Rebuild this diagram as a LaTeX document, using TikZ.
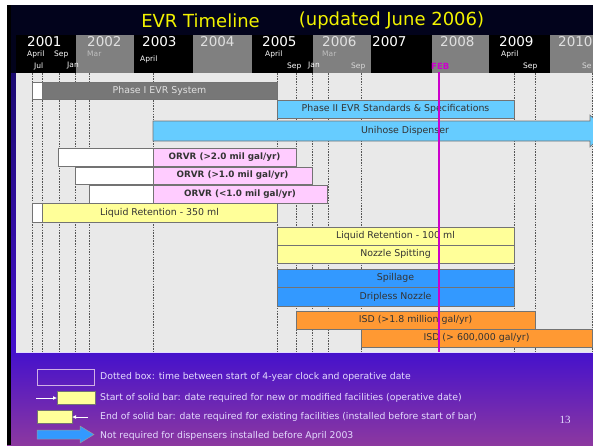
\documentclass[tikz,border=0pt]{standalone}
\usepackage{fontspec}
\setmainfont{DejaVu Sans}
\newfontfamily\numfont{Liberation Serif}
\usetikzlibrary{arrows.meta}
\definecolor{navy}{HTML}{02031C}
\definecolor{stripA}{HTML}{1A0A70}
\definecolor{stripB}{HTML}{4410CC}
\definecolor{purA}{HTML}{4511CC}
\definecolor{purM}{HTML}{6C0CD4}
\definecolor{purB}{HTML}{8C38A0}
\definecolor{chartbg}{HTML}{E9E9E9}
\definecolor{hdrgray}{HTML}{808080}
\definecolor{bargray}{HTML}{777777}
\definecolor{ltblue}{HTML}{66CCFF}
\definecolor{pinkbar}{HTML}{FFCCFF}
\definecolor{yelbar}{HTML}{FFFF99}
\definecolor{bluebar}{HTML}{3399FF}
\definecolor{orgbar}{HTML}{FF9933}
\definecolor{febmag}{HTML}{CC00CC}
\definecolor{titley}{HTML}{F2F200}
\definecolor{lav}{HTML}{E4DCFF}
\definecolor{dotc}{HTML}{555555}
\tikzset{
  barbox/.style={draw=black!55, line width=0.6pt, inner sep=0pt, outer sep=0pt, font=\fontsize{9.4}{10}\selectfont, text=black!80},
  ptext/.style={barbox, font=\bfseries\fontsize{8.8}{10}\selectfont},
  yeartxt/.style={anchor=west, inner sep=0pt, font=\fontsize{13.5}{13.5}\selectfont},
  montxt/.style={anchor=west, inner sep=0pt, font=\fontsize{7.5}{7.5}\selectfont},
  titletxt/.style={inner sep=0pt, text=titley, font=\fontsize{18}{18}\selectfont},
  legtxt/.style={anchor=west, inner sep=0pt, text=lav, font=\fontsize{9.3}{10}\selectfont},
  dotline/.style={dotc, line width=0.6pt, dash pattern=on 1.5pt off 1.2pt},
  legarrow/.style={white, line width=0.9pt, -{Latex[length=4pt,width=4pt]}}
}
\begin{document}
\begin{tikzpicture}[x=1pt,y=-1pt]
\useasboundingbox (0,0) rectangle (593,445);
\begin{scope}
\clip (0,0) rectangle (593,445);
\fill[white] (0,0) rectangle (593,445);
% background
\fill[navy] (7,5) rectangle (593,73);
\shade[top color=stripA, bottom color=stripB] (7,73) rectangle (593,352);
\shade[top color=purA, middle color=purM, bottom color=purB] (7,352) rectangle (593,445);
\fill[black] (7,5) rectangle (11,445);
% title
\node[titletxt] (t1) at (200.5,21) {EVR Timeline};
\node[titletxt] (t2) at (391.5,21) {(updated June 2006)};
% header cells
\fill[black] (16,35) rectangle (76,73);
\fill[hdrgray] (76,35) rectangle (134,73);
\fill[black] (134,35) rectangle (193,73);
\fill[hdrgray] (193,35) rectangle (252,73);
\fill[black] (252,35) rectangle (313,73);
\fill[hdrgray] (313,35) rectangle (371,73);
\fill[black] (371,35) rectangle (432,73);
\fill[hdrgray] (432,35) rectangle (489,73);
\fill[black] (489,35) rectangle (550,73);
\fill[hdrgray] (550,35) rectangle (593,73);
% years
\node[yeartxt, text=white] (y1) at (27,42) {2001};
\node[yeartxt, text=black!12] (y2) at (87,42) {2002};
\node[yeartxt, text=white] (y3) at (142,42) {2003};
\node[yeartxt, text=black!12] (y4) at (200,42) {2004};
\node[yeartxt, text=white] (y5) at (262,42) {2005};
\node[yeartxt, text=black!12] (y6) at (322,42) {2006};
\node[yeartxt, text=white] (y7) at (372,42) {2007};
\node[yeartxt, text=black!12] (y8) at (440,42) {2008};
\node[yeartxt, text=white] (y9) at (499,42) {2009};
\node[yeartxt, text=black!12] (y10) at (558,42) {2010};
% months
\node[montxt, text=white] (m1) at (27,54) {April};
\node[montxt, text=white] (m2) at (54,54) {Sep};
\node[montxt, text=black!25] (m3) at (87,54) {Mar};
\node[montxt, text=white] (m4) at (34,66) {Jul};
\node[montxt, text=white] (m5) at (67,66) {Jan};
\node[montxt, text=white] (m6) at (140,59) {April};
\node[montxt, text=white] (m7) at (265,54) {April};
\node[montxt, text=white] (m8) at (287,66) {Sep};
\node[montxt, text=white] (m9) at (308,66) {Jan};
\node[montxt, text=black!25] (m10) at (322,54) {Mar};
\node[montxt, text=black!15] (m11) at (351,66) {Sep};
\node[montxt, text=febmag, font=\bfseries\fontsize{8.5}{8}\selectfont] (feb) at (431,66) {FEB};
\node[montxt, text=white] (m12) at (501,54) {April};
\node[montxt, text=white] (m13) at (523,66) {Sep};
\node[montxt, text=black!15] (m14) at (582,66) {Se};
% chart area
\fill[chartbg] (16,73) rectangle (593,352);
\draw[lav, line width=0.6pt] (16,352) -- (593,352);
\foreach \xx in {32,42,59,75,89,153,277,296,312,328,361,514,535,592}
  \draw[dotline] (\xx,73) -- (\xx,352);
% bars
\node[barbox, fill=white, minimum width=10pt, minimum height=17pt] (p1w) at (37,90.5) {};
\node[barbox, fill=bargray, text=black!12, minimum width=235pt, minimum height=17pt] (p1) at (159.5,90.5) {Phase I EVR System};
\node[barbox, fill=ltblue, minimum width=237pt, minimum height=18pt] (p2) at (395.5,109) {Phase II EVR Standards \& Specifications};
\fill[ltblue, draw=black!55, line width=0.6pt] (153,121) -- (590,121) -- (590,115) -- (606,131) -- (590,147) -- (590,141) -- (153,141) -- cycle;
\node[inner sep=0pt, font=\fontsize{9.4}{10}\selectfont, text=black!80] (uni) at (405,131) {Unihose Dispenser};
\node[barbox, fill=white, minimum width=95pt, minimum height=18pt] (o1w) at (105.5,157) {};
\node[ptext, fill=pinkbar, minimum width=143pt, minimum height=18pt] (o1) at (224.5,157) {ORVR (>2.0 mil gal/yr)};
\node[barbox, fill=white, minimum width=78pt, minimum height=17pt] (o2w) at (114,175.5) {};
\node[ptext, fill=pinkbar, minimum width=159pt, minimum height=17pt] (o2) at (232.5,175.5) {ORVR (>1.0 mil gal/yr)};
\node[barbox, fill=white, minimum width=64pt, minimum height=18pt] (o3w) at (121,194) {};
\node[ptext, fill=pinkbar, minimum width=174pt, minimum height=18pt] (o3) at (240,194) {ORVR (<1.0 mil gal/yr)};
\node[barbox, fill=white, minimum width=10pt, minimum height=19pt] (l1w) at (37,212.5) {};
\node[barbox, fill=yelbar, minimum width=235pt, minimum height=19pt] (l1) at (159.5,212.5) {Liquid Retention - 350 ml};
\node[barbox, fill=yelbar, minimum width=237pt, minimum height=18pt] (l2) at (395.5,236) {Liquid Retention - 100 ml};
\node[barbox, fill=yelbar, minimum width=237pt, minimum height=18pt] (nz) at (395.5,254) {Nozzle Spitting};
\node[barbox, fill=bluebar, minimum width=237pt, minimum height=18pt] (sp) at (395.5,278) {Spillage};
\node[barbox, fill=bluebar, minimum width=237pt, minimum height=19pt] (dr) at (395.5,296.5) {Dripless Nozzle};
\node[barbox, fill=orgbar, minimum width=239pt, minimum height=18pt] (i1) at (415.5,320) {ISD (>1.8 million gal/yr)};
\node[barbox, fill=orgbar, minimum width=231pt, minimum height=18pt] (i2) at (476.5,338) {ISD (> 600,000 gal/yr)};
% FEB line
\coordinate (fa) at (439,72);
\coordinate (fb) at (439,352);
\draw[febmag, line width=2pt] (fa) -- (fb);
% legend
\node[draw=lav!80!violet, line width=0.6pt, inner sep=0pt, minimum width=57pt, minimum height=16pt] (lg1) at (65.5,377) {};
\node[legtxt] (lt1) at (100,377) {Dotted box: time between start of 4-year clock and operative date};
\node[barbox, fill=yelbar, minimum width=38pt, minimum height=13pt] (lg2) at (76,397.5) {};
\coordinate (la2) at (36,398);
\draw[legarrow] (la2) -- (lg2.west |- la2);
\node[legtxt] (lt2) at (100,398) {Start of solid bar: date required for new or modified facilities (operative date)};
\node[barbox, fill=yelbar, minimum width=35pt, minimum height=13pt] (lg3) at (54.5,416.5) {};
\coordinate (la3) at (88,417);
\draw[legarrow] (la3) -- (lg3.east |- la3);
\node[legtxt] (lt3) at (100,417) {End of solid bar: date required for existing facilities (installed before start of bar)};
\fill[bluebar, draw=black!40, line width=0.5pt] (37,430) -- (80,430) -- (80,426) -- (94,434.5) -- (80,443) -- (80,439) -- (37,439) -- cycle;
\node[legtxt] (lt4) at (100,436) {Not required for dispensers installed before April 2003};
\node[inner sep=0pt, text=lav, font=\numfont\fontsize{11}{11}\selectfont] (pg) at (565,420) {13};
\end{scope}
\end{tikzpicture}
\end{document}
